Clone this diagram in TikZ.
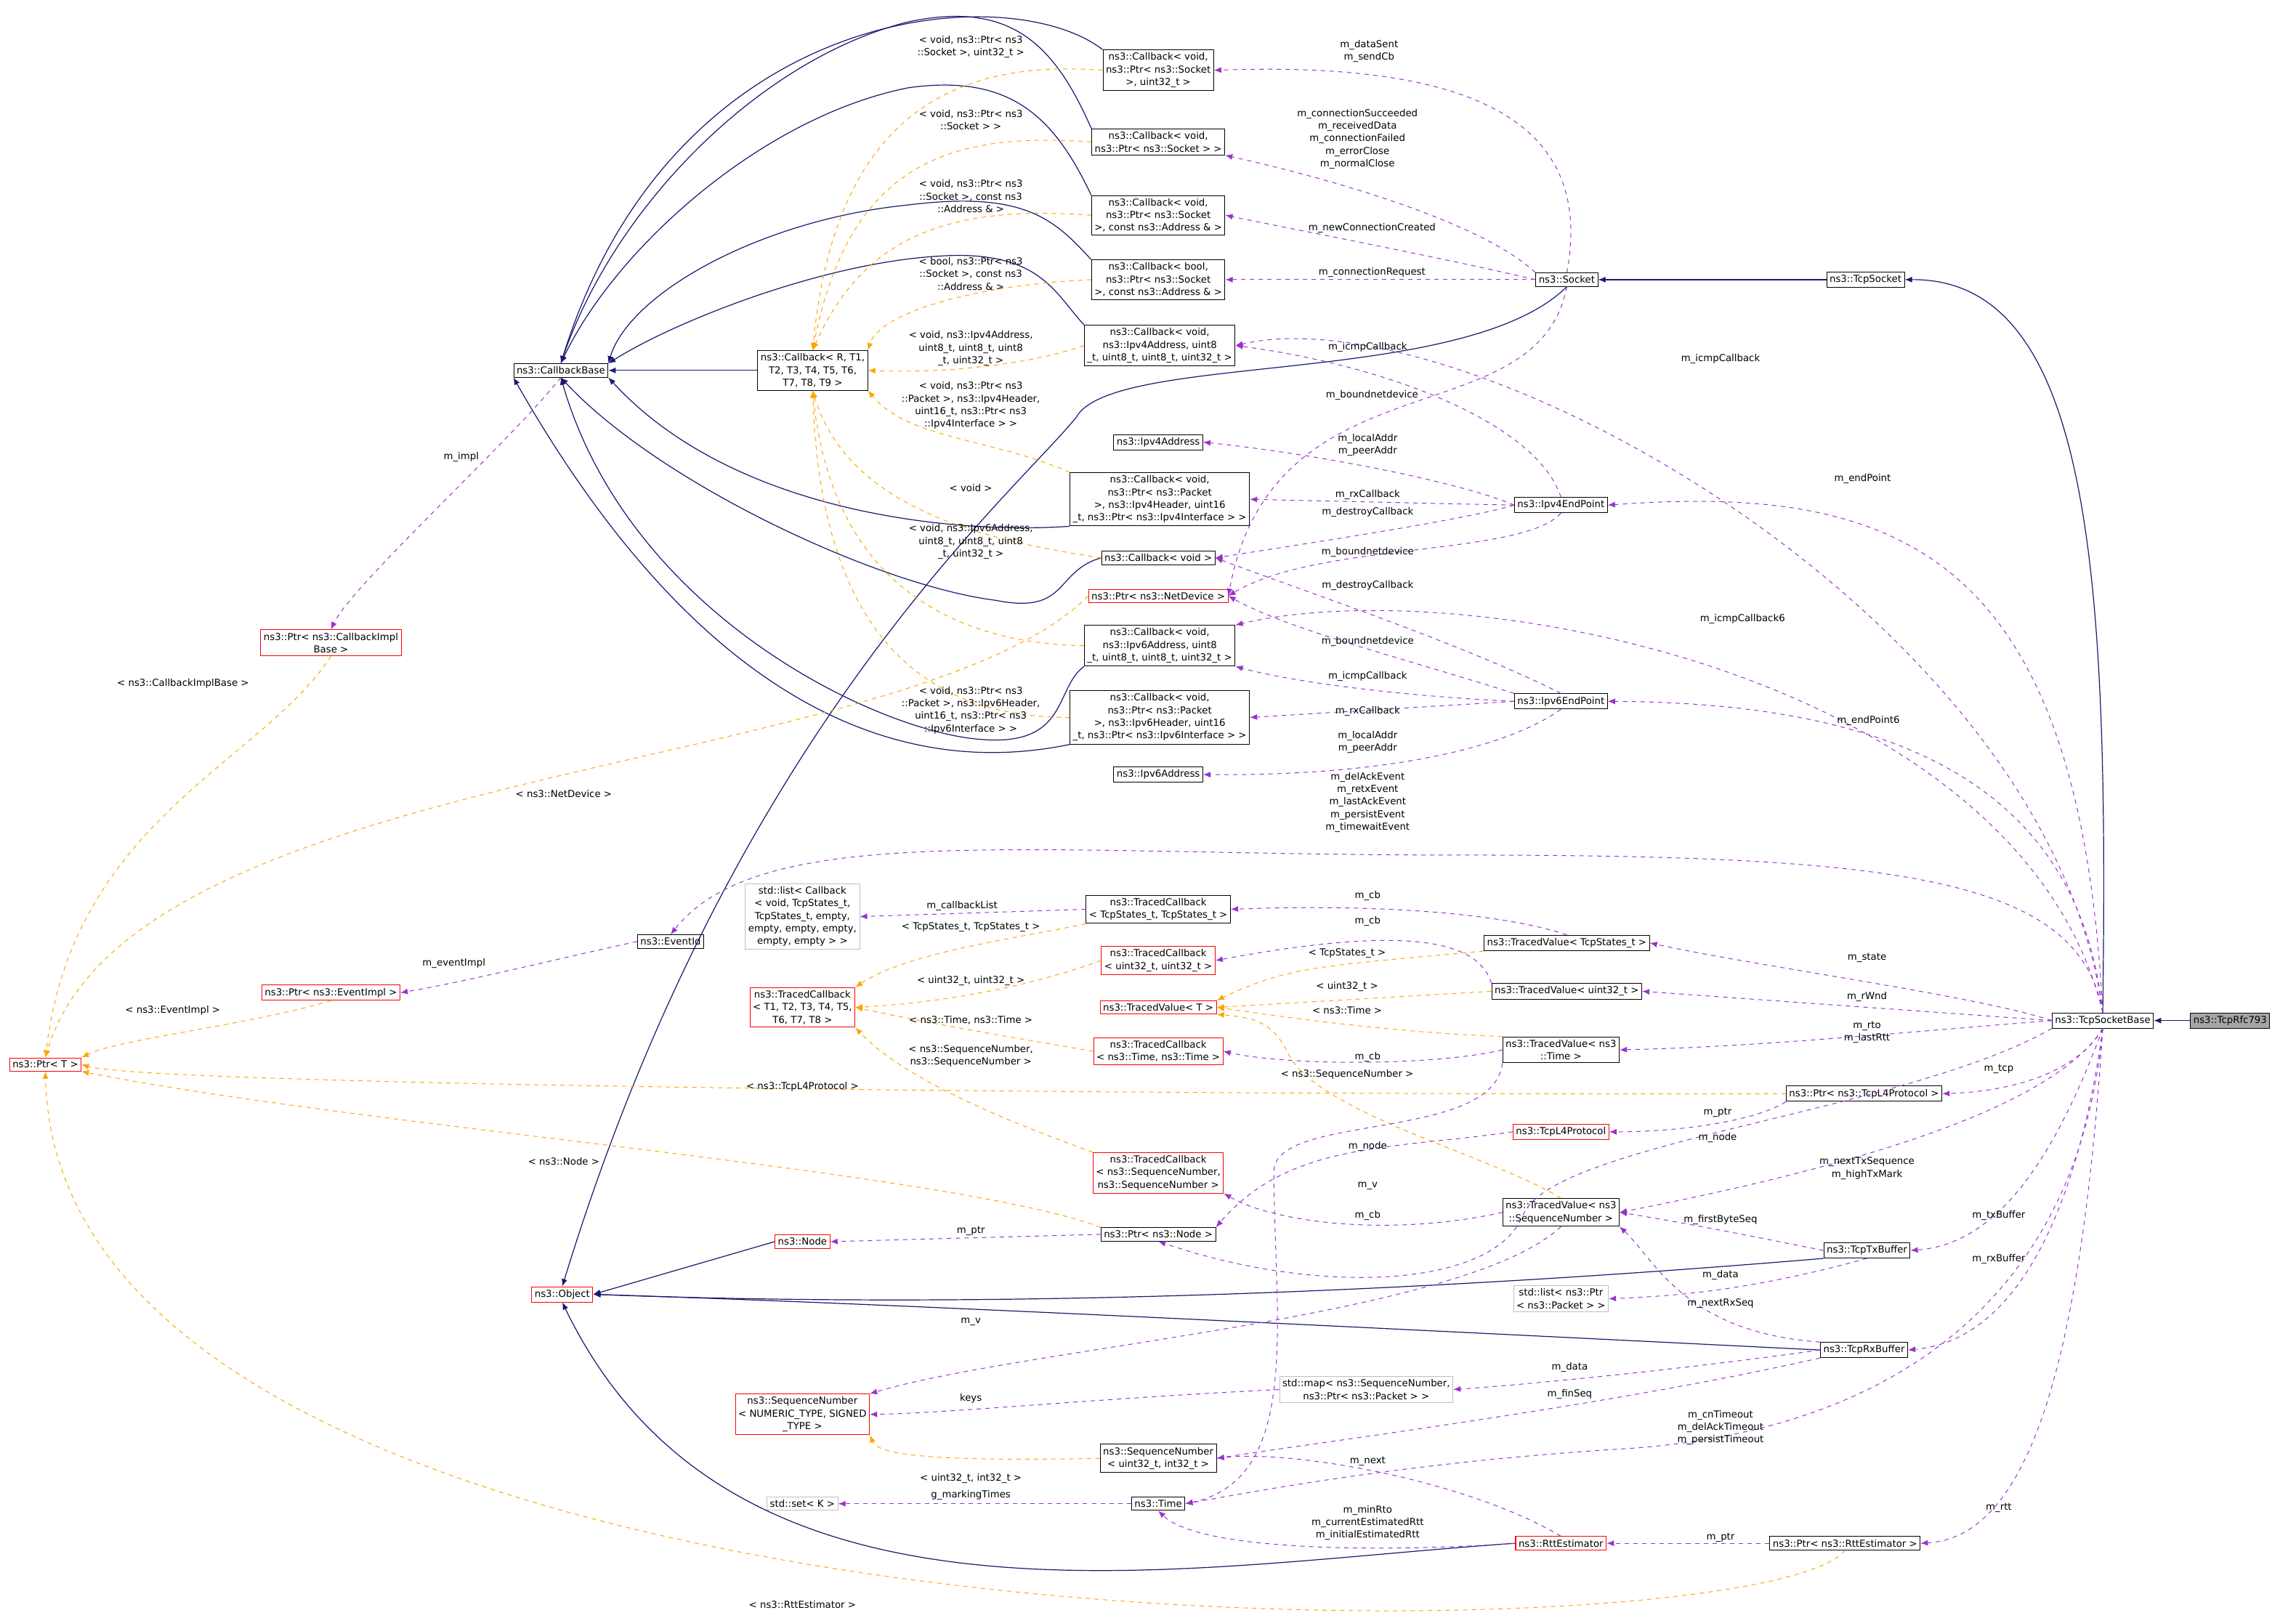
\documentclass[tikz,border=0pt]{standalone}
\usepackage{fontspec}
\setmainfont{DejaVu Sans}
\usetikzlibrary{arrows.meta}
\definecolor{inh}{HTML}{191970}
\definecolor{mem}{HTML}{9A32CD}
\definecolor{tpl}{HTML}{FFA500}
\begin{document}
\begin{tikzpicture}[x=1pt,y=-1pt,
  every node/.style={font=\fontsize{6.6}{8.6}\selectfont,align=center},
  cls/.style={draw=black,fill=white,inner sep=2pt,line width=0.5pt},
  rcls/.style={cls,draw=red},
  gcls/.style={cls,draw=black!25},
  lab/.style={inner sep=0pt},
  inhe/.style={inh,line width=0.6pt,-{Latex[length=5pt,width=4pt]}},
  meme/.style={mem,dashed,line width=0.5pt,-{Latex[length=5pt,width=4pt]}},
  tple/.style={tpl,dashed,line width=0.5pt,-{Latex[length=5pt,width=4pt]}}]
\useasboundingbox (0,0) rectangle (1568,1105);
% nodes
\node[cls] (cbb) at (383,253) {ns3::CallbackBase};
\node[cls] (cb) at (555,253) {ns3::Callback< R, T1,\\T2, T3, T4, T5, T6,\\T7, T8, T9 >};
\node[cls] (c1) at (791,48) {ns3::Callback< void,\\ns3::Ptr< ns3::Socket\\>, uint32\_t >};
\node[cls] (c2) at (791,97) {ns3::Callback< void,\\ns3::Ptr< ns3::Socket > >};
\node[cls] (c3) at (791,147) {ns3::Callback< void,\\ns3::Ptr< ns3::Socket\\>, const ns3::Address \& >};
\node[cls] (c4) at (791,191) {ns3::Callback< bool,\\ns3::Ptr< ns3::Socket\\>, const ns3::Address \& >};
\node[cls] (c5) at (792,236) {ns3::Callback< void,\\ns3::Ipv4Address, uint8\\\_t, uint8\_t, uint8\_t, uint32\_t >};
\node[cls] (ipv4addr) at (791,302) {ns3::Ipv4Address};
\node[cls] (c6) at (792,341) {ns3::Callback< void,\\ns3::Ptr< ns3::Packet\\>, ns3::Ipv4Header, uint16\\\_t, ns3::Ptr< ns3::Ipv4Interface > >};
\node[cls] (cvoid) at (791,381) {ns3::Callback< void >};
\node[rcls] (netdev) at (791,407) {ns3::Ptr< ns3::NetDevice >};
\node[cls] (c7) at (792,441) {ns3::Callback< void,\\ns3::Ipv6Address, uint8\\\_t, uint8\_t, uint8\_t, uint32\_t >};
\node[cls] (c8) at (792,490) {ns3::Callback< void,\\ns3::Ptr< ns3::Packet\\>, ns3::Ipv6Header, uint16\\\_t, ns3::Ptr< ns3::Ipv6Interface > >};
\node[cls] (ipv6addr) at (791,529) {ns3::Ipv6Address};
\node[cls] (socket) at (1070,191) {ns3::Socket};
\node[cls] (tcpsocket) at (1274,191) {ns3::TcpSocket};
\node[cls] (ipv4ep) at (1066,345) {ns3::Ipv4EndPoint};
\node[cls] (ipv6ep) at (1066,479) {ns3::Ipv6EndPoint};
\node[cls] (tcpbase) at (1436,697) {ns3::TcpSocketBase};
\node[cls,fill=black!35] (rfc) at (1523,697) {ns3::TcpRfc793};
\node[rcls] (implptr) at (226,439) {ns3::Ptr< ns3::CallbackImpl\\Base >};
\node[rcls] (ptrT) at (31,727) {ns3::Ptr< T >};
\node[rcls] (eventimpl) at (226,678) {ns3::Ptr< ns3::EventImpl >};
\node[cls] (eventid) at (458,643) {ns3::EventId};
\node[gcls] (stdlist) at (548,626) {std::list< Callback\\< void, TcpStates\_t,\\TcpStates\_t, empty,\\empty, empty, empty,\\empty, empty > >};
\node[cls] (tcb1) at (791,621) {ns3::TracedCallback\\< TcpStates\_t, TcpStates\_t >};
\node[rcls] (tcbT) at (548,688) {ns3::TracedCallback\\< T1, T2, T3, T4, T5,\\T6, T7, T8 >};
\node[rcls] (tcb2) at (791,656) {ns3::TracedCallback\\< uint32\_t, uint32\_t >};
\node[rcls] (tvT) at (791,688) {ns3::TracedValue< T >};
\node[rcls] (tcb3) at (791,718) {ns3::TracedCallback\\< ns3::Time, ns3::Time >};
\node[rcls] (tcb4) at (791,801) {ns3::TracedCallback\\< ns3::SequenceNumber,\\ns3::SequenceNumber >};
\node[cls] (tvstate) at (1070,644) {ns3::TracedValue< TcpStates\_t >};
\node[cls] (tvuint) at (1070,677) {ns3::TracedValue< uint32\_t >};
\node[cls] (tvtime) at (1066,717) {ns3::TracedValue< ns3\\::Time >};
\node[cls] (ptrl4) at (1273,747) {ns3::Ptr< ns3::TcpL4Protocol >};
\node[rcls] (l4) at (1066,773) {ns3::TcpL4Protocol};
\node[cls] (ptrnode) at (791,843) {ns3::Ptr< ns3::Node >};
\node[rcls] (node) at (548,848) {ns3::Node};
\node[cls] (tvseq) at (1066,828) {ns3::TracedValue< ns3\\::SequenceNumber >};
\node[cls] (txbuf) at (1275,854) {ns3::TcpTxBuffer};
\node[rcls] (object) at (384,884) {ns3::Object};
\node[gcls] (listpkt) at (1066,887) {std::list< ns3::Ptr\\< ns3::Packet > >};
\node[cls] (rxbuf) at (1273,922) {ns3::TcpRxBuffer};
\node[rcls] (seqnum) at (548,966) {ns3::SequenceNumber\\< NUMERIC\_TYPE, SIGNED\\\_TYPE >};
\node[gcls] (map) at (933,949) {std::map< ns3::SequenceNumber,\\ns3::Ptr< ns3::Packet > >};
\node[cls] (seq32) at (791,996) {ns3::SequenceNumber\\< uint32\_t, int32\_t >};
\node[gcls] (set) at (548,1027) {std::set< K >};
\node[cls] (time) at (791,1027) {ns3::Time};
\node[rcls] (rtt) at (1066,1054) {ns3::RttEstimator};
\node[cls] (ptrrtt) at (1260,1054) {ns3::Ptr< ns3::RttEstimator >};

% inheritance
\draw[inhe] (c1.north west) .. controls (690,-15) and (460,0) .. (cbb.north);
\draw[inhe] (c2.north west) .. controls (720,30) and (690,0) .. (620,15) .. controls (520,40) and (420,140) .. (cbb.north);
\draw[inhe] (c3.north west) .. controls (720,80) and (690,50) .. (620,60) .. controls (520,80) and (420,170) .. (cbb.north);
\draw[inhe] (c4.north west) .. controls (720,150) and (700,130) .. (620,140) .. controls (520,150) and (430,200) .. (cbb.north east);
\draw[inhe] (c5.north west) .. controls (720,200) and (710,170) .. (640,175) .. controls (560,180) and (460,220) .. (cbb.north east);
\draw[inhe] (c6.south west) .. controls (650,365) and (500,350) .. (cbb.south east);
\draw[inhe] (cvoid.west) .. controls (720,390) and (730,420) .. (680,410) .. controls (600,400) and (450,330) .. (cbb.south);
\draw[inhe] (c7.south west) .. controls (720,470) and (730,510) .. (670,505) .. controls (600,500) and (430,420) .. (cbb.south);
\draw[inhe] (c8.south west) .. controls (650,525) and (500,520) .. (cbb.south west);
\draw[inhe] (cb) -- (cbb);
\draw[inhe] (socket.south) .. controls (1000,265) and (760,240) .. (735,285) .. controls (690,340) and (500,500) .. (object.north);
\draw[inhe] (node.west) -- (object.east);
\draw[inhe] (txbuf.south west) .. controls (1000,880) and (700,895) .. (object.east);
\draw[inhe] (rxbuf.west) .. controls (900,905) and (600,890) .. (object.east);
\draw[inhe] (rtt.west) .. controls (800,1070) and (500,1130) .. (object.south);
\draw[inhe] (tcpsocket) -- (socket);
\draw[inhe] (tcpbase.north) .. controls (1440,400) and (1430,190) .. (tcpsocket.east);
\draw[inhe] (rfc) -- (tcpbase);

% templates
\draw[tple] (c1.west) .. controls (650,40) and (570,80) .. (cb.north);
\draw[tple] (c2.west) .. controls (650,90) and (580,110) .. (cb.north);
\draw[tple] (c3.west) .. controls (650,140) and (590,160) .. (cb.north);
\draw[tple] (c4.west) .. controls (660,195) and (600,215) .. (cb.north east);
\draw[tple] (c5.west) .. controls (700,250) and (640,255) .. (cb.east);
\draw[tple] (c6.north west) .. controls (680,300) and (620,300) .. (cb.south east);
\draw[tple] (cvoid.west) .. controls (680,370) and (580,350) .. (cb.south);
\draw[tple] (c7.west) .. controls (680,440) and (570,420) .. (cb.south);
\draw[tple] (c8.west) .. controls (620,490) and (560,420) .. (cb.south);
\node[lab] at (663,32) {< void, ns3::Ptr< ns3\\::Socket >, uint32\_t >};
\node[lab] at (663,82) {< void, ns3::Ptr< ns3\\::Socket > >};
\node[lab] at (663,134) {< void, ns3::Ptr< ns3\\::Socket >, const ns3\\::Address \& >};
\node[lab] at (663,187) {< bool, ns3::Ptr< ns3\\::Socket >, const ns3\\::Address \& >};
\node[lab] at (663,238) {< void, ns3::Ipv4Address,\\uint8\_t, uint8\_t, uint8\\\_t, uint32\_t >};
\node[lab] at (663,277) {< void, ns3::Ptr< ns3\\::Packet >, ns3::Ipv4Header,\\uint16\_t, ns3::Ptr< ns3\\::Ipv4Interface > >};
\node[lab] at (663,333) {< void >};
\node[lab] at (663,370) {< void, ns3::Ipv6Address,\\uint8\_t, uint8\_t, uint8\\\_t, uint32\_t >};
\node[lab] at (663,485) {< void, ns3::Ptr< ns3\\::Packet >, ns3::Ipv6Header,\\uint16\_t, ns3::Ptr< ns3\\::Ipv6Interface > >};
\draw[tple] (netdev.west) .. controls (620,530) and (90,520) .. (ptrT.north);
\node[lab] at (385,542) {< ns3::NetDevice >};
\draw[tple] (implptr.south) .. controls (180,520) and (50,560) .. (ptrT.north);
\node[lab] at (125,467) {< ns3::CallbackImplBase >};
\draw[tple] (eventimpl.south) .. controls (170,700) and (80,710) .. (ptrT.north east);
\node[lab] at (118,690) {< ns3::EventImpl >};
\draw[tple] (ptrl4.west) .. controls (700,748) and (100,740) .. (ptrT.east);
\node[lab] at (548,742) {< ns3::TcpL4Protocol >};
\draw[tple] (ptrnode.north west) .. controls (650,800) and (250,770) .. (ptrT.south east);
\node[lab] at (385,793) {< ns3::Node >};
\draw[tple] (ptrrtt.south) .. controls (1200,1135) and (40,1145) .. (ptrT.south);
\node[lab] at (548,1096) {< ns3::RttEstimator >};
\draw[tple] (tcb1.south west) .. controls (700,640) and (620,650) .. (tcbT.north east);
\node[lab] at (663,633) {< TcpStates\_t, TcpStates\_t >};
\draw[tple] (tcb2.west) .. controls (700,675) and (640,685) .. (tcbT.east);
\node[lab] at (663,670) {< uint32\_t, uint32\_t >};
\draw[tple] (tcb3.west) .. controls (700,710) and (640,700) .. (tcbT.east);
\node[lab] at (663,697) {< ns3::Time, ns3::Time >};
\draw[tple] (tcb4.north west) .. controls (700,770) and (620,740) .. (tcbT.south east);
\node[lab] at (663,721) {< ns3::SequenceNumber,\\ns3::SequenceNumber >};
\draw[tple] (tvstate.south west) .. controls (900,660) and (880,660) .. (tvT.north east);
\node[lab] at (920,651) {< TcpStates\_t >};
\draw[tple] (tvuint.west) -- (tvT.east);
\node[lab] at (920,674) {< uint32\_t >};
\draw[tple] (tvtime.north west) .. controls (950,705) and (880,695) .. (tvT.east);
\node[lab] at (920,690) {< ns3::Time >};
\draw[tple] (tvseq.north) .. controls (1020,790) and (900,760) .. (880,720) .. controls (870,700) and (860,695) .. (tvT.south east);
\node[lab] at (920,734) {< ns3::SequenceNumber >};
\draw[tple] (seq32.west) .. controls (650,998) and (600,995) .. (seqnum.south east);
\node[lab] at (663,1010) {< uint32\_t, int32\_t >};

% members
\draw[meme] (socket.north) .. controls (1090,80) and (1000,42) .. (c1.east);
\node[lab] at (935,35) {m\_dataSent\\m\_sendCb};
\draw[meme] (socket.north west) .. controls (1010,150) and (900,120) .. (c2.south east);
\node[lab] at (927,95) {m\_connectionSucceeded\\m\_receivedData\\m\_connectionFailed\\m\_errorClose\\m\_normalClose};
\draw[meme] (socket.west) .. controls (980,175) and (900,160) .. (c3.east);
\node[lab] at (937,156) {m\_newConnectionCreated};
\draw[meme] (socket.west) -- (c4.east);
\node[lab] at (937,186) {m\_connectionRequest};
\draw[meme] (socket.south) .. controls (1050,300) and (870,240) .. (netdev.east);
\node[lab] at (937,270) {m\_boundnetdevice};
\draw[meme] (tcpbase.north) .. controls (1400,420) and (1000,200) .. (c5.east);
\node[lab] at (1175,245) {m\_icmpCallback};
\draw[meme] (ipv4ep.north) .. controls (1050,290) and (950,250) .. (c5.east);
\node[lab] at (934,237) {m\_icmpCallback};
\draw[meme] (ipv4ep.west) .. controls (1000,330) and (900,310) .. (ipv4addr.east);
\node[lab] at (934,304) {m\_localAddr\\m\_peerAddr};
\draw[meme] (ipv4ep.west) -- (c6.east);
\node[lab] at (934,338) {m\_rxCallback};
\draw[meme] (ipv4ep.west) .. controls (1000,355) and (900,370) .. (cvoid.east);
\node[lab] at (934,350) {m\_destroyCallback};
\draw[meme] (ipv4ep.south) .. controls (1040,380) and (900,370) .. (netdev.east);
\node[lab] at (934,377) {m\_boundnetdevice};
\draw[meme] (tcpbase.north) .. controls (1420,380) and (1300,330) .. (ipv4ep.east);
\node[lab] at (1272,327) {m\_endPoint};
\draw[meme] (tcpbase.north) .. controls (1380,460) and (1000,390) .. (c7.north east);
\node[lab] at (1190,423) {m\_icmpCallback6};
\draw[meme] (ipv6ep.north) .. controls (1000,440) and (880,400) .. (cvoid.east);
\node[lab] at (934,400) {m\_destroyCallback};
\draw[meme] (ipv6ep.north west) .. controls (960,450) and (880,430) .. (netdev.east);
\node[lab] at (934,438) {m\_boundnetdevice};
\draw[meme] (ipv6ep.west) .. controls (950,475) and (880,465) .. (c7.south east);
\node[lab] at (934,462) {m\_icmpCallback};
\draw[meme] (ipv6ep.west) -- (c8.east);
\node[lab] at (934,486) {m\_rxCallback};
\draw[meme] (ipv6ep.south) .. controls (1030,510) and (950,530) .. (ipv6addr.east);
\node[lab] at (934,507) {m\_localAddr\\m\_peerAddr};
\draw[meme] (tcpbase.north) .. controls (1420,540) and (1300,480) .. (ipv6ep.east);
\node[lab] at (1276,492) {m\_endPoint6};
\draw[meme] (tcpbase.north) .. controls (1420,600) and (1300,584) .. (1000,584) .. controls (700,584) and (520,560) .. (eventid.north);
\node[lab] at (934,548) {m\_delAckEvent\\m\_retxEvent\\m\_lastAckEvent\\m\_persistEvent\\m\_timewaitEvent};
\draw[meme] (eventid.west) .. controls (380,655) and (320,670) .. (eventimpl.east);
\node[lab] at (310,658) {m\_eventImpl};
\draw[meme] (cbb.south) .. controls (350,300) and (240,400) .. (implptr.north);
\node[lab] at (315,312) {m\_impl};
\draw[meme] (tcb1.west) -- (stdlist.east);
\node[lab] at (657,619) {m\_callbackList};
\draw[meme] (tvstate.north) .. controls (1030,625) and (950,617) .. (tcb1.east);
\node[lab] at (934,612) {m\_cb};
\draw[meme] (tvuint.north west) .. controls (1010,645) and (970,630) .. (tcb2.east);
\node[lab] at (934,629) {m\_cb};
\draw[meme] (tvtime.west) .. controls (980,728) and (880,728) .. (tcb3.east);
\node[lab] at (934,722) {m\_cb};
\draw[meme] (tvseq.west) .. controls (950,845) and (870,835) .. (tcb4.south east);
\node[lab] at (934,830) {m\_cb};
\draw[meme] (tcpbase.west) .. controls (1350,680) and (1200,660) .. (tvstate.east);
\node[lab] at (1275,654) {m\_state};
\draw[meme] (tcpbase.west) -- (tvuint.east);
\node[lab] at (1275,681) {m\_rWnd};
\draw[meme] (tcpbase.west) .. controls (1300,705) and (1200,715) .. (tvtime.east);
\node[lab] at (1275,705) {m\_rto\\m\_lastRtt};
\draw[meme] (tcpbase.south) .. controls (1420,730) and (1380,745) .. (ptrl4.east);
\node[lab] at (1365,730) {m\_tcp};
\draw[meme] (ptrl4.south west) .. controls (1200,765) and (1150,773) .. (l4.east);
\node[lab] at (1173,760) {m\_ptr};
\draw[meme] (l4.west) .. controls (950,785) and (880,780) .. (ptrnode.north east);
\node[lab] at (934,783) {m\_node};
\draw[meme] (tcpbase.south west) .. controls (1300,760) and (1060,780) .. (1040,830) .. controls (1020,880) and (900,885) .. (ptrnode.south);
\node[lab] at (1173,777) {m\_node};
\draw[meme] (ptrnode.west) -- (node.east);
\node[lab] at (663,841) {m\_ptr};
\draw[meme] (tvtime.south west) .. controls (1020,780) and (870,760) .. (870,800) .. controls (870,900) and (890,1010) .. (time.east);
\node[lab] at (934,810) {m\_v};
\draw[meme] (tvseq.south) .. controls (1000,900) and (700,920) .. (seqnum.north east);
\node[lab] at (663,903) {m\_v};
\draw[meme] (tcpbase.south) .. controls (1400,760) and (1250,800) .. (tvseq.east);
\node[lab] at (1275,798) {m\_nextTxSequence\\m\_highTxMark};
\draw[meme] (txbuf.west) .. controls (1200,845) and (1150,835) .. (tvseq.east);
\node[lab] at (1175,833) {m\_firstByteSeq};
\draw[meme] (rxbuf.north west) .. controls (1150,910) and (1130,860) .. (tvseq.south east);
\node[lab] at (1175,890) {m\_nextRxSeq};
\draw[meme] (tcpbase.south) .. controls (1400,800) and (1360,850) .. (txbuf.east);
\node[lab] at (1365,830) {m\_txBuffer};
\draw[meme] (txbuf.south) .. controls (1200,880) and (1150,885) .. (listpkt.east);
\node[lab] at (1175,871) {m\_data};
\draw[meme] (tcpbase.south) .. controls (1420,820) and (1380,915) .. (rxbuf.east);
\node[lab] at (1365,860) {m\_rxBuffer};
\draw[meme] (rxbuf.west) .. controls (1150,935) and (1050,945) .. (map.east);
\node[lab] at (1072,934) {m\_data};
\draw[meme] (rxbuf.south west) .. controls (1100,960) and (900,985) .. (seq32.east);
\node[lab] at (1072,952) {m\_finSeq};
\draw[meme] (map.west) .. controls (750,955) and (650,965) .. (seqnum.east);
\node[lab] at (663,955) {keys};
\draw[meme] (tcpbase.south) .. controls (1420,880) and (1300,980) .. (1100,990) .. controls (950,1000) and (850,1020) .. (time.east);
\node[lab] at (1175,975) {m\_cnTimeout\\m\_delAckTimeout\\m\_persistTimeout};
\draw[meme] (rtt.north) .. controls (1000,1010) and (880,990) .. (seq32.east);
\node[lab] at (934,998) {m\_next};
\draw[meme] (rtt.west) .. controls (950,1060) and (820,1060) .. (time.south);
\node[lab] at (934,1040) {m\_minRto\\m\_currentEstimatedRtt\\m\_initialEstimatedRtt};
\draw[meme] (time.west) -- (set.east);
\node[lab] at (663,1021) {g\_markingTimes};
\draw[meme] (ptrrtt.west) -- (rtt.east);
\node[lab] at (1175,1050) {m\_ptr};
\draw[meme] (tcpbase.south) .. controls (1420,950) and (1380,1050) .. (ptrrtt.east);
\node[lab] at (1365,1030) {m\_rtt};
\end{tikzpicture}
\end{document}
